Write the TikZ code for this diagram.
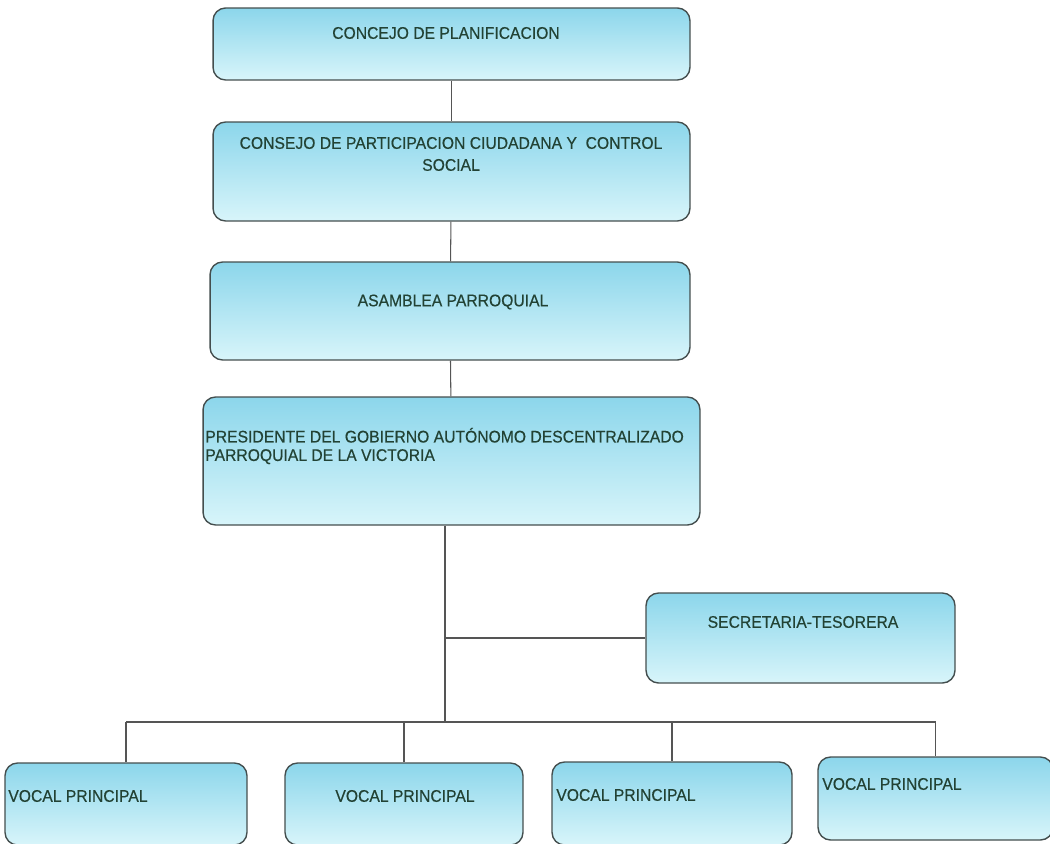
\documentclass[tikz,border=0pt]{standalone}
\usepackage{fontspec}
\newfontfamily\orgfont[FakeStretch=0.93,FakeBold=0.4]{Liberation Sans}
\usepackage{tikz}
\usetikzlibrary{positioning,calc}

\definecolor{boxtop}{RGB}{140,214,235}
\definecolor{boxbottom}{RGB}{216,245,250}
\definecolor{boxline}{RGB}{68,78,78}
\definecolor{orgtext}{RGB}{34,66,52}
\definecolor{linkgray}{RGB}{85,85,85}

\tikzset{
	orgbox/.style={draw=boxline,line width=0.8pt,rounded corners=0.25cm,top color=boxtop,bottom color=boxbottom,inner sep=0pt},
	orglabel/.style={text=orgtext,font=\orgfont\fontsize{9.6}{12.5}\selectfont,inner sep=0pt},
	link/.style={draw=linkgray,line width=0.6pt}
}

\begin{document}
\begin{tikzpicture}[x=0.02cm,y=-0.02cm]
	\useasboundingbox (0,0) rectangle (1050,844);
	\clip (0,0) rectangle (1050,844);
	% boxes
	\node[orgbox,minimum width=9.54cm,minimum height=1.44cm] (plan) at (451.5,44) {};
	\node[orgbox,minimum width=9.54cm,minimum height=1.98cm] (cpccs) at (451.5,171.5) {};
	\node[orgbox,minimum width=9.6cm,minimum height=1.96cm] (asamblea) at (450,311) {};
	\node[orgbox,minimum width=9.94cm,minimum height=2.56cm] (pres) at (451.5,461) {};
	\node[orgbox,minimum width=6.18cm,minimum height=1.8cm] (sec) at (800.5,638) {};
	\node[orgbox,minimum width=4.84cm,minimum height=1.64cm] (vocalA) at (126,804) {};
	\node[orgbox,minimum width=4.76cm,minimum height=1.64cm] (vocalB) at (404,804) {};
	\node[orgbox,minimum width=4.8cm,minimum height=1.66cm] (vocalC) at (672,803.5) {};
	\node[orgbox,minimum width=4.7cm,minimum height=1.66cm] (vocalD) at (935.5,798.5) {};
	% texts
	\node[orglabel] (planlbl) at (446,33) {CONCEJO DE PLANIFICACION};
	\node[orglabel,align=center] (cpccslbl) at (451,154) {CONSEJO DE PARTICIPACION CIUDADANA Y \ CONTROL\\SOCIAL};
	\node[orglabel] (asamblealbl) at (453,302) {ASAMBLEA PARROQUIAL};
	\node[orglabel,align=left,anchor=west,font=\orgfont\fontsize{9.6}{10.5}\selectfont] (preslbl) at (205,446) {PRESIDENTE DEL GOBIERNO AUT\'ONOMO DESCENTRALIZADO\\PARROQUIAL DE LA VICTORIA};
	\node[orglabel] (seclbl) at (803,622) {SECRETARIA-TESORERA};
	\node[orglabel,anchor=west] (vocalAlbl) at (8,796) {VOCAL PRINCIPAL};
	\node[orglabel] (vocalBlbl) at (405,796) {VOCAL PRINCIPAL};
	\node[orglabel,anchor=west] (vocalClbl) at (556,795) {VOCAL PRINCIPAL};
	\node[orglabel,anchor=west] (vocalDlbl) at (822,784) {VOCAL PRINCIPAL};
	% lines
	\coordinate (bus) at (445,722);
	\draw[link] (plan) -- (cpccs);
	\draw[link] (cpccs) -- (asamblea);
	\draw[link] (asamblea) -- (pres);
	\draw[link] (bus |- pres.south) -- (bus);
	\draw[link] (bus |- sec.west) -- (sec.west);
	\draw[link] (vocalA.north |- bus) -- (vocalD.north |- bus);
	\foreach \v in {vocalA,vocalB,vocalC,vocalD}
		\draw[link] (\v.north |- bus) -- (\v.north);
\end{tikzpicture}
\end{document}
